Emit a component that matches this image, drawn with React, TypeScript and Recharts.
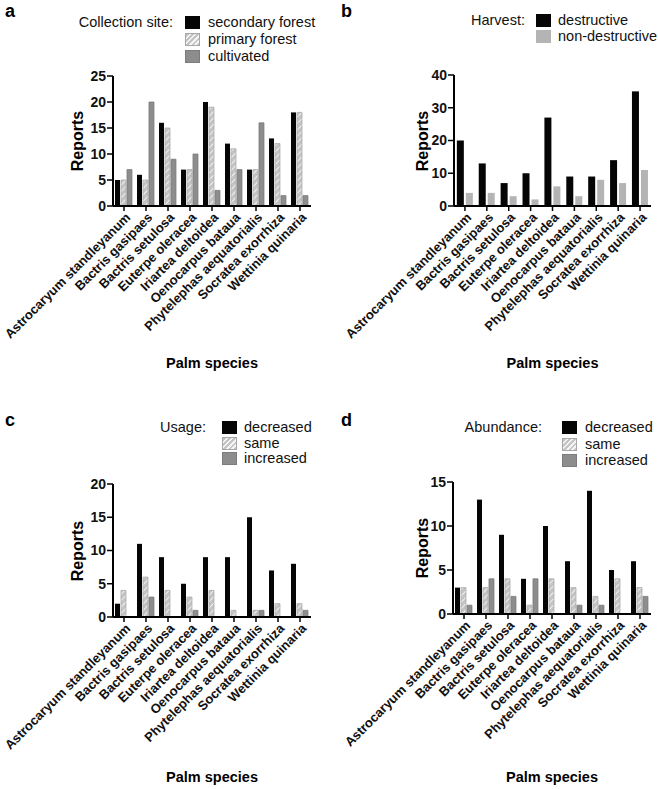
import { Bar, BarChart, XAxis, YAxis } from 'recharts';

// species on every panel
const species = [
  'Astrocaryum standleyanum',
  'Bactris gasipaes',
  'Bactris setulosa',
  'Euterpe oleracea',
  'Iriartea deltoidea',
  'Oenocarpus bataua',
  'Phytelephas aequatorialis',
  'Socratea exorrhiza',
  'Wettinia quinaria',
];

// a: collection site
const siteSecondary = [5, 6, 16, 7, 20, 12, 7, 13, 18];
const sitePrimary = [5, 5, 15, 7, 19, 11, 7, 12, 18];
const siteCultivated = [7, 20, 9, 10, 3, 7, 16, 2, 2];
const siteTicks = [0, 5, 10, 15, 20, 25];

// b: harvest
const harvestDestructive = [20, 13, 7, 10, 27, 9, 9, 14, 35];
const harvestNonDestructive = [4, 4, 3, 2, 6, 3, 8, 7, 11];
const harvestTicks = [0, 10, 20, 30, 40];

// c: usage
const usageDecreased = [2, 11, 9, 5, 9, 9, 15, 7, 8];
const usageSame = [4, 6, 4, 3, 4, 1, 1, 2, 2];
const usageIncreased = [0, 3, 0, 1, 0, 0, 1, 0, 1];
const usageTicks = [0, 5, 10, 15, 20];

// d: abundance
const abundDecreased = [3, 13, 9, 4, 10, 6, 14, 5, 6];
const abundSame = [3, 3, 4, 1, 4, 3, 2, 4, 3];
const abundIncreased = [1, 4, 2, 4, 0, 1, 1, 0, 2];
const abundTicks = [0, 5, 10, 15];

const FONT = '"Liberation Sans", Arial, Helvetica, sans-serif';
const BLACK = '#050505';
const GREY = '#8d8d8d';
const LIGHT = '#b4b4b4';
const HATCH_CSS = 'repeating-linear-gradient(-45deg, #c4c4c4 0 2px, #f4f4f4 2px 3.6px)';

interface SeriesDef {
  key: string;
  label: string;
  fill: string;
  swatch: string;
  stroke?: string;
}

interface PanelProps {
  left: number;
  top: number;
  height: number;
  letter: string;
  letterX: number;
  letterY: number;
  legendTitle: string;
  legendRight: number;
  swatchX: number;
  labelX: number;
  legendRows: number[];
  series: SeriesDef[];
  rows: Record<string, number | string>[];
  ticks: number[];
  plotTop: number;
  plotBottom: number;
  axisX: number;
  plotRight: number;
  titleY: number;
  reportsX: number;
  catGap: string;
  barGap: number;
  patternId: string;
}

function SpeciesTick(props: any) {
  const { x, y, payload } = props;
  return (
    <g transform={`translate(${x + 4},${y + 2})`}>
      <text
        x={0}
        y={0}
        dy="0.35em"
        textAnchor="end"
        transform="rotate(-45)"
        fill="#111"
        fontFamily={FONT}
        fontWeight={700}
        fontSize={13}
      >
        {payload.value}
      </text>
    </g>
  );
}

function Panel(p: PanelProps) {
  const width = 329;
  const midX = (p.axisX + p.plotRight) / 2;
  const midY = (p.plotTop + p.plotBottom) / 2;
  return (
    <div style={{ position: 'absolute', left: p.left, top: p.top, width, height: p.height, fontFamily: FONT }}>
      <div style={{ position: 'absolute', left: p.letterX, top: p.letterY, fontSize: 18, fontWeight: 700, lineHeight: '20px' }}>
        {p.letter}
      </div>
      <div
        style={{
          position: 'absolute',
          left: p.legendRight - 200,
          width: 200,
          top: p.legendRows[0] - 9,
          textAlign: 'right',
          fontSize: 14.5,
          lineHeight: '18px',
          color: '#111',
        }}
      >
        {p.legendTitle}
      </div>
      {p.series.map((s, i) => (
        <div key={s.key}>
          <div
            style={{
              position: 'absolute',
              left: p.swatchX,
              top: p.legendRows[i] - 6.5,
              width: 15,
              height: 13,
              background: s.swatch,
              boxSizing: 'border-box',
              border: s.stroke ? `1px solid ${s.stroke}` : 'none',
            }}
          />
          <div
            style={{
              position: 'absolute',
              left: p.labelX,
              top: p.legendRows[i] - 9,
              fontSize: 14.5,
              lineHeight: '18px',
              whiteSpace: 'nowrap',
              color: '#111',
            }}
          >
            {s.label}
          </div>
        </div>
      ))}
      <div
        style={{
          position: 'absolute',
          left: p.reportsX - 50,
          top: midY - 10,
          width: 100,
          height: 20,
          lineHeight: '20px',
          textAlign: 'center',
          fontSize: 16,
          fontWeight: 700,
          transform: 'rotate(-90deg)',
        }}
      >
        Reports
      </div>
      <div
        style={{
          position: 'absolute',
          left: midX - 80,
          top: p.titleY - 10,
          width: 160,
          lineHeight: '20px',
          textAlign: 'center',
          fontSize: 14.5,
          fontWeight: 700,
        }}
      >
        Palm species
      </div>
      <div style={{ position: 'absolute', left: 0, top: 0 }}>
        <BarChart
          width={width}
          height={p.height}
          data={p.rows}
          margin={{ top: p.plotTop, right: width - p.plotRight, left: 0, bottom: 0 }}
          barCategoryGap={p.catGap}
          barGap={p.barGap}
        >
          <defs>
            <pattern
              id={p.patternId}
              width={4.5}
              height={4.5}
              patternUnits="userSpaceOnUse"
              patternTransform="rotate(45)"
            >
              <rect width={4.5} height={4.5} fill="#c4c4c4" />
              <line x1={0} y1={0} x2={0} y2={4.5} stroke="#f4f4f4" strokeWidth={1.8} />
            </pattern>
          </defs>
          <XAxis
            dataKey="species"
            interval={0}
            height={p.height - p.plotBottom}
            axisLine={{ stroke: '#000', strokeWidth: 2 }}
            tickLine={{ stroke: '#000', strokeWidth: 1.5 }}
            tickSize={5}
            tickMargin={2}
            tick={<SpeciesTick />}
          />
          <YAxis
            width={p.axisX}
            domain={[0, p.ticks[p.ticks.length - 1]]}
            ticks={p.ticks}
            interval={0}
            axisLine={{ stroke: '#000', strokeWidth: 2 }}
            tickLine={{ stroke: '#000', strokeWidth: 1.5 }}
            tickSize={6}
            tickMargin={1}
            tick={{ fill: '#111', fontSize: 14, fontWeight: 700, fontFamily: FONT }}
          />
          {p.series.map((s) => (
            <Bar
              key={s.key}
              dataKey={s.key}
              fill={s.fill === 'hatch' ? `url(#${p.patternId})` : s.fill}
              stroke={s.stroke}
              strokeWidth={s.stroke ? 0.8 : 0}
              isAnimationActive={false}
            />
          ))}
        </BarChart>
      </div>
    </div>
  );
}

const siteRows = species.map((s, i) => ({
  species: s,
  secondary: siteSecondary[i],
  primary: sitePrimary[i],
  cultivated: siteCultivated[i],
}));
const harvestRows = species.map((s, i) => ({
  species: s,
  destructive: harvestDestructive[i],
  nondestructive: harvestNonDestructive[i],
}));
const usageRows = species.map((s, i) => ({
  species: s,
  decreased: usageDecreased[i],
  same: usageSame[i],
  increased: usageIncreased[i],
}));
const abundRows = species.map((s, i) => ({
  species: s,
  decreased: abundDecreased[i],
  same: abundSame[i],
  increased: abundIncreased[i],
}));

const threeWay = (a: string, b: string, c: string): SeriesDef[] => [
  { key: a.split(' ')[0], label: a, fill: BLACK, swatch: BLACK },
  { key: b.split(' ')[0], label: b, fill: 'hatch', swatch: HATCH_CSS, stroke: '#a8a8a8' },
  { key: c.split(' ')[0], label: c, fill: GREY, swatch: GREY, stroke: '#7c7c7c' },
];

export default function App() {
  return (
    <div style={{ position: 'absolute', left: 0, top: 0, width: 658, height: 789, background: '#fff', overflow: 'hidden' }}>
      <Panel
        left={0}
        top={0}
        height={390}
        letter="a"
        letterX={5}
        letterY={1}
        legendTitle="Collection site:"
        legendRight={173}
        swatchX={185}
        labelX={208}
        legendRows={[22, 39, 56]}
        series={threeWay('secondary forest', 'primary forest', 'cultivated')}
        rows={siteRows}
        ticks={siteTicks}
        plotTop={76}
        plotBottom={206}
        axisX={113}
        plotRight={311}
        titleY={363}
        reportsX={78}
        catGap="9%"
        barGap={1}
        patternId="hatchA"
      />
      <Panel
        left={329}
        top={0}
        height={390}
        letter="b"
        letterX={12}
        letterY={1}
        legendTitle="Harvest:"
        legendRight={196}
        swatchX={207}
        labelX={229}
        legendRows={[20, 36]}
        series={[
          { key: 'destructive', label: 'destructive', fill: BLACK, swatch: BLACK },
          { key: 'nondestructive', label: 'non-destructive', fill: LIGHT, swatch: LIGHT },
        ]}
        rows={harvestRows}
        ticks={harvestTicks}
        plotTop={75}
        plotBottom={206}
        axisX={125}
        plotRight={322}
        titleY={363}
        reportsX={94}
        catGap="13%"
        barGap={2}
        patternId="hatchB"
      />
      <Panel
        left={0}
        top={390}
        height={399}
        letter="c"
        letterX={5}
        letterY={20}
        legendTitle="Usage:"
        legendRight={206}
        swatchX={222}
        labelX={244}
        legendRows={[37, 53, 68]}
        series={threeWay('decreased', 'same', 'increased')}
        rows={usageRows}
        ticks={usageTicks}
        plotTop={94}
        plotBottom={227}
        axisX={113}
        plotRight={311}
        titleY={387}
        reportsX={78}
        catGap="9%"
        barGap={1}
        patternId="hatchC"
      />
      <Panel
        left={329}
        top={390}
        height={399}
        letter="d"
        letterX={12}
        letterY={20}
        legendTitle="Abundance:"
        legendRight={213}
        swatchX={233}
        labelX={256}
        legendRows={[37, 54, 70]}
        series={threeWay('decreased', 'same', 'increased')}
        rows={abundRows}
        ticks={abundTicks}
        plotTop={92}
        plotBottom={224}
        axisX={124}
        plotRight={322}
        titleY={387}
        reportsX={94}
        catGap="9%"
        barGap={1}
        patternId="hatchD"
      />
    </div>
  );
}
